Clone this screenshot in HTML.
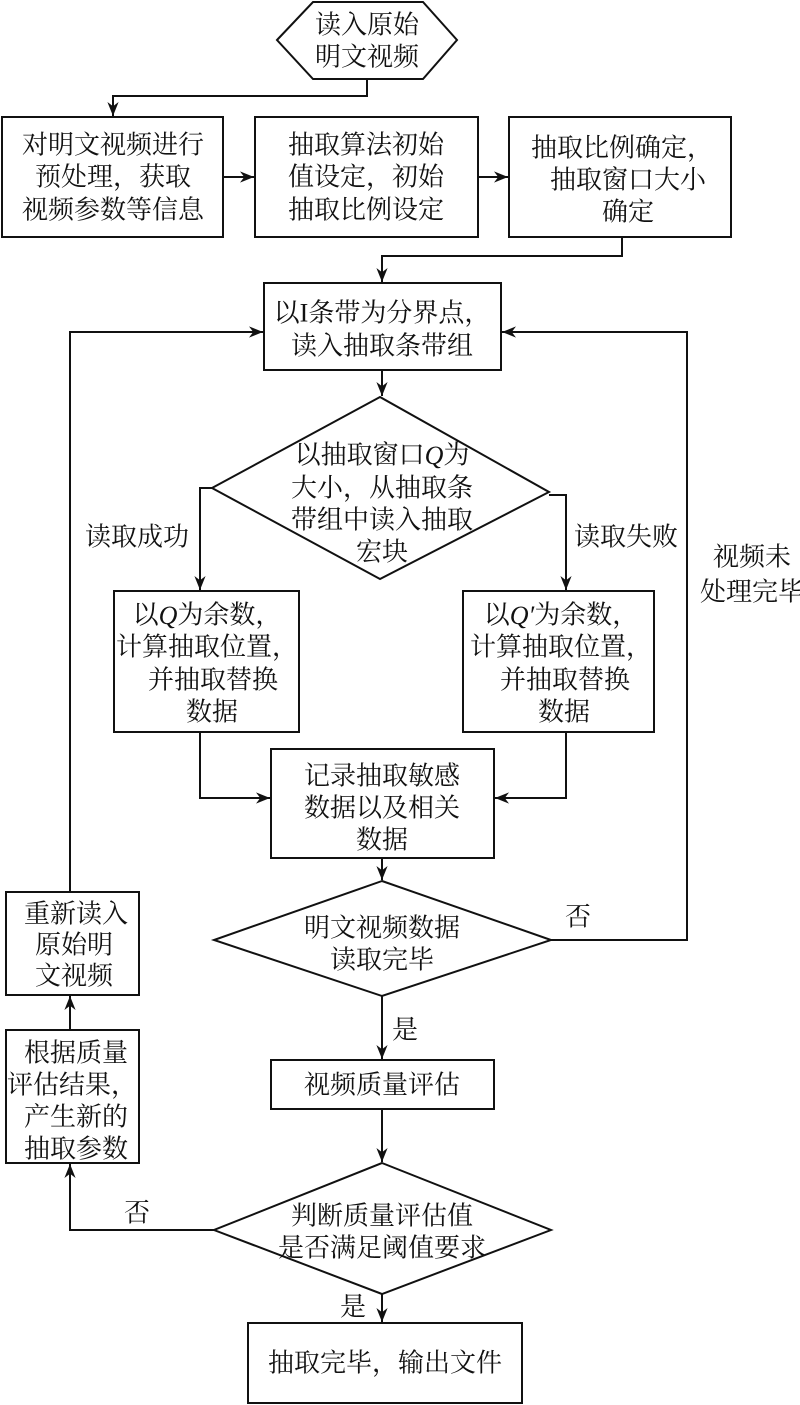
<!DOCTYPE html>
<html><head><meta charset="utf-8"><style>
html,body{margin:0;padding:0;background:#fff}
svg{display:block}
text{font-family:"Liberation Serif","Noto Serif CJK SC","Noto Sans CJK SC",serif;font-size:26px;fill:#111;text-anchor:middle;dominant-baseline:central}
.s{stroke:#111;stroke-width:2;fill:none}
</style></head><body>
<svg width="800" height="1405" viewBox="0 0 800 1405" xmlns="http://www.w3.org/2000/svg">
<defs><marker id="a" viewBox="0 0 10 10" refX="10" refY="5" markerWidth="14" markerHeight="14" markerUnits="userSpaceOnUse" orient="auto"><path d="M0,1 L10,5 L0,9 L3,5 Z" fill="#111"/></marker></defs>

<!-- hexagon -->
<polygon class="s" points="277,40 313,2 423,2 457,40 423,79 313,79"/>
<text x="367" y="25">读入原始</text>
<text x="367" y="57">明文视频</text>
<polyline class="s" points="367,79 367,96 113,96 113,116" marker-end="url(#a)"/>

<!-- row boxes -->
<rect class="s" x="2" y="117" width="221" height="120"/>
<text x="113" y="145">对明文视频进行</text>
<text x="113" y="177">预处理，获取</text>
<text x="113" y="210">视频参数等信息</text>
<line class="s" x1="223" y1="177" x2="254" y2="177" marker-end="url(#a)"/>
<rect class="s" x="255" y="117" width="223" height="120"/>
<text x="366" y="145">抽取算法初始</text>
<text x="366" y="177">值设定，初始</text>
<text x="366" y="210">抽取比例设定</text>
<line class="s" x1="478" y1="177" x2="508" y2="177" marker-end="url(#a)"/>
<rect class="s" x="509" y="117" width="222" height="120"/>
<text x="622" y="148">抽取比例确定，</text>
<text x="628" y="180">抽取窗口大小</text>
<text x="628" y="212">确定</text>
<polyline class="s" points="622,237 622,256 382,256 382,282" marker-end="url(#a)"/>

<!-- box4 -->
<rect class="s" x="264" y="283" width="237" height="87"/>
<text x="382" y="313">以I条带为分界点，</text>
<text x="382" y="346">读入抽取条带组</text>
<line class="s" x1="382" y1="370" x2="382" y2="396" marker-end="url(#a)"/>

<!-- loops -->
<polyline class="s" points="70,892 70,332 263,332" marker-end="url(#a)"/>
<polyline class="s" points="551,940 687,940 687,332 502,332" marker-end="url(#a)"/>

<!-- diamond1 -->
<polygon class="s" points="380,397 549,492 380,579 212,488"/>
<text x="382" y="455">以抽取窗口<tspan font-style="italic">Q</tspan>为</text>
<text x="382" y="488">大小，从抽取条</text>
<text x="382" y="520">带组中读入抽取</text>
<text x="382" y="552">宏块</text>
<polyline class="s" points="212,488 200,488 200,590" marker-end="url(#a)"/>
<polyline class="s" points="549,495 566,495 566,590" marker-end="url(#a)"/>
<text x="137" y="537">读取成功</text>
<text x="626" y="537">读取失败</text>
<text x="752" y="557">视频未</text>
<text x="752" y="592">处理完毕</text>

<!-- box5/6 -->
<rect class="s" x="114" y="591" width="185" height="141"/>
<text x="207" y="615">以<tspan font-style="italic">Q</tspan>为余数，</text>
<text x="207" y="647">计算抽取位置，</text>
<text x="213" y="680">并抽取替换</text>
<text x="212" y="712">数据</text>
<rect class="s" x="463" y="591" width="191" height="141"/>
<text x="561" y="615">以<tspan font-style="italic">Q′</tspan>为余数，</text>
<text x="561" y="647">计算抽取位置，</text>
<text x="565" y="680">并抽取替换</text>
<text x="564" y="712">数据</text>
<polyline class="s" points="200,732 200,798 270,798" marker-end="url(#a)"/>
<polyline class="s" points="566,732 566,798 495,798" marker-end="url(#a)"/>

<!-- box7 -->
<rect class="s" x="271" y="749" width="223" height="109"/>
<text x="382" y="776">记录抽取敏感</text>
<text x="382" y="808">数据以及相关</text>
<text x="382" y="840">数据</text>
<line class="s" x1="382" y1="858" x2="382" y2="880" marker-end="url(#a)"/>

<!-- diamond2 -->
<polygon class="s" points="382,881 551,940 382,996 214,940"/>
<text x="382" y="928">明文视频数据</text>
<text x="382" y="960">读取完毕</text>
<text x="578" y="917">否</text>
<line class="s" x1="382" y1="996" x2="382" y2="1059" marker-end="url(#a)"/>
<text x="405" y="1030">是</text>

<!-- box8 -->
<rect class="s" x="271" y="1060" width="223" height="49"/>
<text x="382" y="1085">视频质量评估</text>
<line class="s" x1="382" y1="1109" x2="382" y2="1162" marker-end="url(#a)"/>

<!-- diamond3 -->
<polygon class="s" points="382,1163 551,1230 382,1294 214,1230"/>
<text x="382" y="1216">判断质量评估值</text>
<text x="382" y="1248">是否满足阈值要求</text>
<polyline class="s" points="214,1230 70,1230 70,1164" marker-end="url(#a)"/>
<text x="137" y="1213">否</text>
<line class="s" x1="382" y1="1294" x2="382" y2="1322" marker-end="url(#a)"/>
<text x="353" y="1307">是</text>

<!-- final -->
<rect class="s" x="248" y="1323" width="274" height="80"/>
<text x="385" y="1363">抽取完毕，输出文件</text>

<!-- left boxes -->
<rect class="s" x="6" y="1030" width="133" height="133"/>
<text x="76" y="1053">根据质量</text>
<text x="72" y="1085">评估结果，</text>
<text x="76" y="1117">产生新的</text>
<text x="76" y="1149">抽取参数</text>
<line class="s" x1="70" y1="1030" x2="70" y2="996" marker-end="url(#a)"/>
<rect class="s" x="6" y="892" width="133" height="103"/>
<text x="76" y="914">重新读入</text>
<text x="74" y="945">原始明</text>
<text x="74" y="976">文视频</text>
</svg>
</body></html>
